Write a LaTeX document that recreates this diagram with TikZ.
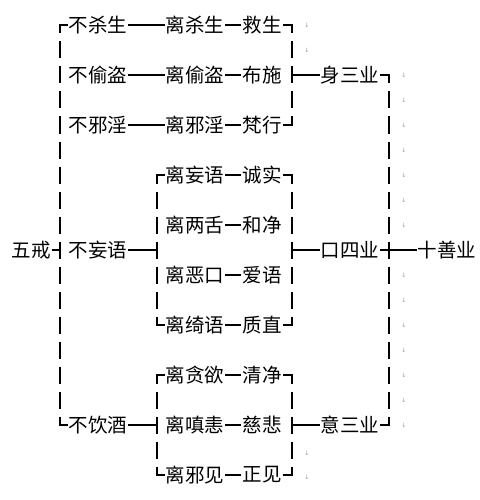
\documentclass[tikz,border=0pt]{standalone}
\usepackage{fontspec}
\newfontfamily\cjk{Noto Sans CJK SC}
\newfontfamily\symfont{DejaVu Sans}
\usetikzlibrary{positioning}

\begin{document}
\begin{tikzpicture}[x=1pt, y=-1pt, line width=1.3pt,
    every node/.style={font=\cjk\fontsize{19.5}{21}\selectfont, inner sep=0.5pt},
    dashline/.style={line width=1.5pt, dash pattern=on 17pt off 8pt, dash phase=8.5pt},
    mark note/.style={font=\symfont\fontsize{6}{6}\selectfont, text=gray!80, inner sep=0pt}]
    \useasboundingbox (0,0) rectangle (479,500);

    % bracket columns
    \coordinate (c1) at (60,0);
    \coordinate (c2) at (157,0);
    \coordinate (c3) at (292,0);
    \coordinate (c4) at (389,0);

    \node (wujie) at (31,250) {五戒};
    \node (b1) at (98,25) {不杀生};
    \node (b2) at (98,75) {不偷盗};
    \node (b3) at (98,125) {不邪淫};
    \node (b4) at (98,250) {不妄语};
    \node (b5) at (98,425) {不饮酒};

    \node (l1) at (195,25) {离杀生};
    \node (l2) at (195,75) {离偷盗};
    \node (l3) at (195,125) {离邪淫};
    \node (l4) at (195,175) {离妄语};
    \node (l5) at (195,225) {离两舌};
    \node (l6) at (195,275) {离恶口};
    \node (l7) at (195,325) {离绮语};
    \node (l8) at (195,375) {离贪欲};
    \node (l9) at (195,425) {离嗔恚};
    \node (l10) at (195,475) {离邪见};

    \node (g1) at (262,25) {救生};
    \node (g2) at (262,75) {布施};
    \node (g3) at (262,125) {梵行};
    \node (g4) at (262,175) {诚实};
    \node (g5) at (262,225) {和净};
    \node (g6) at (262,275) {爱语};
    \node (g7) at (262,325) {质直};
    \node (g8) at (262,375) {清净};
    \node (g9) at (262,425) {慈悲};
    \node (g10) at (262,475) {正见};

    \node (shen) at (350,75) {身三业};
    \node (kou) at (350,250) {口四业};
    \node (yi) at (350,425) {意三业};
    \node (shi) at (447,250) {十善业};

    % rows
    \draw (b1) -- (l1);
    \draw (b2) -- (l2);
    \draw (b3) -- (l3);
    \foreach \i in {1,...,10}
        \draw (l\i) -- (g\i);

    % five precepts
    \draw (wujie.east) -- (wujie.east -| c1);
    \draw (b1.west) -- (b1.west -| c1) -- ++(0,6);
    \draw[dashline] (b1.west -| c1) -- (b5.west -| c1);
    \draw (b5.west) -- (b5.west -| c1) -- ++(0,-6);

    % speech group
    \draw (b4.east) -- (b4.east -| c2);
    \draw (l4.west) -- (l4.west -| c2) -- ++(0,6);
    \draw[dashline] (l4.west -| c2) -- (l7.west -| c2);
    \draw (l7.west) -- (l7.west -| c2) -- ++(0,-6);

    % mind group
    \draw (b5.east) -- (b5.east -| c2);
    \draw (l8.west) -- (l8.west -| c2) -- ++(0,6);
    \draw[dashline] (l8.west -| c2) -- (l10.west -| c2);
    \draw (l10.west) -- (l10.west -| c2) -- ++(0,-6);

    % right brackets
    \draw (g1.east) -- (g1.east -| c3) -- ++(0,6);
    \draw[dashline] (g1.east -| c3) -- (g3.east -| c3);
    \draw (g3.east) -- (g3.east -| c3) -- ++(0,-6);
    \draw (shen.west -| c3) -- (shen.west);

    \draw (g4.east) -- (g4.east -| c3) -- ++(0,6);
    \draw[dashline] (g4.east -| c3) -- (g7.east -| c3);
    \draw (g7.east) -- (g7.east -| c3) -- ++(0,-6);
    \draw (kou.west -| c3) -- (kou.west);

    \draw (g8.east) -- (g8.east -| c3) -- ++(0,6);
    \draw[dashline] (g8.east -| c3) -- (g10.east -| c3);
    \draw (g10.east) -- (g10.east -| c3) -- ++(0,-6);
    \draw (yi.west -| c3) -- (yi.west);

    % ten good deeds
    \draw (shen.east) -- (shen.east -| c4) -- ++(0,6);
    \draw[dashline] (shen.east -| c4) -- (yi.east -| c4);
    \draw (yi.east) -- (yi.east -| c4) -- ++(0,-6);
    \draw (kou.east) -- (shi.west);

    % line break marks
    \foreach \y in {25,50,453,477}
        \node[mark note] (n\y) at (307,\y) {↓};
    \foreach \y in {75,100,...,225}
        \node[mark note] (m\y) at (404,\y) {↓};
    \foreach \y in {275,300,...,425}
        \node[mark note] (m\y) at (404,\y) {↓};
\end{tikzpicture}
\end{document}
